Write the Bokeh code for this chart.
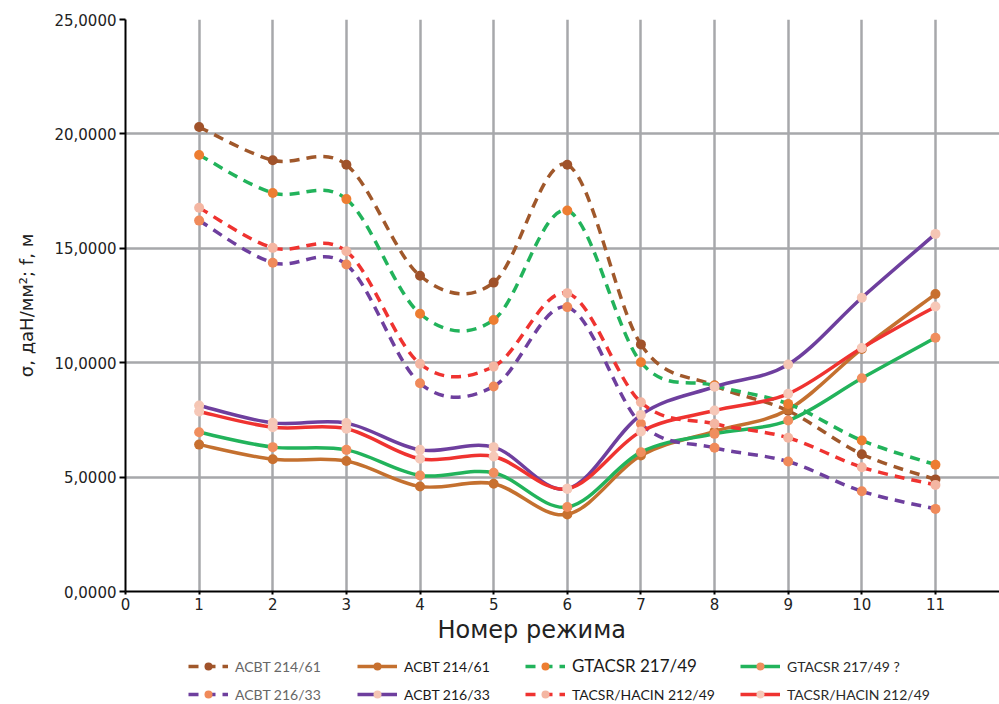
from bokeh.plotting import figure
from bokeh.layouts import column
from bokeh.models import Range1d, FixedTicker, Legend, LegendItem, ColumnDataSource, Title
from bokeh.embed import file_html
from bokeh.resources import INLINE

# ---------------- data ----------------
modes = [1, 2, 3, 4, 5, 6, 7, 8, 9, 10, 11]
x_ticks = [0, 1, 2, 3, 4, 5, 6, 7, 8, 9, 10, 11]
y_ticks = [0, 5, 10, 15, 20, 25]
y_tick_labels = ["0,0000", "5,0000", "10,0000", "15,0000", "20,0000", "25,0000"]

acbt214_dash = [20.30, 18.85, 18.65, 13.80, 13.50, 18.65, 10.80, 9.00, 7.90, 6.00, 4.90]
acbt214_solid = [6.42, 5.78, 5.70, 4.59, 4.71, 3.37, 5.94, 7.00, 7.95, 10.60, 13.00]
gtacsr_dash = [19.08, 17.42, 17.15, 12.14, 11.87, 16.65, 10.02, 9.00, 8.20, 6.60, 5.54]
gtacsr_solid = [6.96, 6.31, 6.19, 5.07, 5.19, 3.69, 6.09, 6.89, 7.47, 9.32, 11.09]
acbt216_dash = [16.21, 14.37, 14.29, 9.10, 8.96, 12.43, 7.33, 6.28, 5.68, 4.38, 3.61]
acbt216_solid = [8.13, 7.37, 7.36, 6.19, 6.31, 4.49, 7.72, 8.95, 9.92, 12.84, 15.63]
tacsr_dash = [16.77, 15.02, 14.87, 9.95, 9.83, 13.04, 8.27, 7.33, 6.72, 5.43, 4.66]
tacsr_solid = [7.87, 7.18, 7.11, 5.80, 5.90, 4.49, 6.99, 7.91, 8.64, 10.64, 12.46]

labels = ["ACBT 214/61", "ACBT 214/61", "GTACSR 217/49", "GTACSR 217/49 ?",
          "ACBT 216/33", "ACBT 216/33", "TACSR/HACIN 212/49", "TACSR/HACIN 212/49"]
values = [acbt214_dash, acbt214_solid, gtacsr_dash, gtacsr_solid,
          acbt216_dash, acbt216_solid, tacsr_dash, tacsr_solid]

# ---------------- styles ----------------
line_colors = ["#A0582B", "#C4702F", "#22B35B", "#22B35B",
               "#6E3F9E", "#6E3F9E", "#EF3330", "#EF3330"]
marker_colors = ["#A0522A", "#C8702F", "#ED7D31", "#F08E5E",
                 "#F08A5A", "#F5C6B4", "#F4B6A2", "#F6C8B8"]
dashes = ["10 7", "solid", "10 7", "solid", "10 7", "solid", "10 7", "solid"]

p = figure(width=999, height=650, output_backend="svg", toolbar_location=None,
           x_range=Range1d(0, 11.87), y_range=Range1d(0, 25),
           min_border_left=125, min_border_top=19, min_border_right=0,
           min_border_bottom=59)
p.outline_line_color = None
p.background_fill_color = "white"

# axes
p.xaxis.ticker = FixedTicker(ticks=x_ticks)
p.yaxis.ticker = FixedTicker(ticks=y_ticks)
p.yaxis.major_label_overrides = {t: l for t, l in zip(y_ticks, y_tick_labels)}
for ax in (p.xaxis, p.yaxis):
    ax.axis_line_color = "black"
    ax.axis_line_width = 2
    ax.major_tick_line_color = "black"
    ax.major_tick_line_width = 2
    ax.major_tick_in = 0
    ax.minor_tick_line_color = None
    ax.major_label_text_font = "DejaVu Sans"
    ax.major_label_text_font_size = "15px"
    ax.major_label_text_color = "#222222"
    ax.axis_label_text_font = "DejaVu Sans"
    ax.axis_label_text_font_style = "normal"
    ax.axis_label_text_color = "#222222"
p.yaxis.major_tick_out = 6
p.xaxis.major_tick_out = 3
p.xaxis.major_label_standoff = 3
p.yaxis.major_label_standoff = 3
p.yaxis.axis_label = "σ, даН/мм²; f, м"
p.yaxis.axis_label_text_font_size = "18px"
p.yaxis.axis_label_standoff = 14

xtitle = Title(text="Номер режима", align="left", offset=312, standoff=3,
               text_font="DejaVu Sans", text_font_size="24px",
               text_font_style="normal", text_color="#222222")
p.add_layout(xtitle, "below")

# grid
p.xgrid.ticker = FixedTicker(ticks=x_ticks)
p.ygrid.ticker = FixedTicker(ticks=y_ticks)
for g in (p.xgrid, p.ygrid):
    g.grid_line_color = "#A7A8AB"
    g.grid_line_width = 2.5

# smooth curves (Catmull-Rom style bezier through the data points)
def bezier_source(xs, ys):
    n = len(xs)
    d = dict(x0=[], y0=[], x1=[], y1=[], cx0=[], cy0=[], cx1=[], cy1=[])
    for i in range(n - 1):
        i0 = max(i - 1, 0)
        i3 = min(i + 2, n - 1)
        d["x0"].append(xs[i]); d["y0"].append(ys[i])
        d["x1"].append(xs[i + 1]); d["y1"].append(ys[i + 1])
        d["cx0"].append(xs[i] + (xs[i + 1] - xs[i0]) / 6.0)
        d["cy0"].append(ys[i] + (ys[i + 1] - ys[i0]) / 6.0)
        d["cx1"].append(xs[i + 1] - (xs[i3] - xs[i]) / 6.0)
        d["cy1"].append(ys[i + 1] - (ys[i3] - ys[i]) / 6.0)
    return ColumnDataSource(d)

for vals, lc, mc, dash in zip(values, line_colors, marker_colors, dashes):
    src = bezier_source(modes, vals)
    p.bezier(x0="x0", y0="y0", x1="x1", y1="y1", cx0="cx0", cy0="cy0",
             cx1="cx1", cy1="cy1", source=src, line_color=lc,
             line_width=3.5, line_dash=dash)
    p.scatter(modes, vals, size=10, fill_color=mc, line_color=None, marker="circle")

# ---------------- legend strip ----------------
# the series are re-plotted here far outside the visible range, only to feed the legend
lg = figure(width=999, height=54, output_backend="svg", toolbar_location=None,
            x_range=Range1d(0, 1), y_range=Range1d(-101, -100),
            x_axis_location=None, y_axis_location=None,
            min_border_left=0, min_border_right=0, min_border_top=0, min_border_bottom=0)
lg.outline_line_color = None
lg.grid.visible = False

entries = []
for lab, vals, lc, mc, dash in zip(labels, values, line_colors, marker_colors, dashes):
    lr = lg.line(modes, vals, line_color=lc, line_width=3.5, line_dash=dash)
    sr = lg.scatter(modes, vals, size=10, fill_color=mc, line_color=None, marker="circle")
    entries.append(LegendItem(label=lab, renderers=[lr, sr]))

frame_left = 125
col_x = [188, 357, 525, 740]
row_y = [28, 0]
cell_color = ["#666666", "#1a1a1a", "#1a1a1a", "#2a2a2a",
              "#666666", "#1a1a1a", "#1a1a1a", "#2a2a2a"]
cell_size = ["14px", "14px", "17px", "14px", "14px", "14px", "14px", "14px"]
for k in range(8):
    c, r = k % 4, k // 4
    leg = Legend(items=[entries[k]], orientation="vertical",
                 location=(col_x[c] - frame_left, row_y[r]), glyph_width=40, glyph_height=20,
                 label_height=20, label_standoff=7, spacing=0, padding=0, margin=0,
                 label_text_font="Lato", label_text_font_size=cell_size[k],
                 label_text_color=cell_color[k], border_line_color=None,
                 background_fill_alpha=0)
    lg.add_layout(leg, "center")

open("out.html", "w").write(file_html(column(p, lg), INLINE))
